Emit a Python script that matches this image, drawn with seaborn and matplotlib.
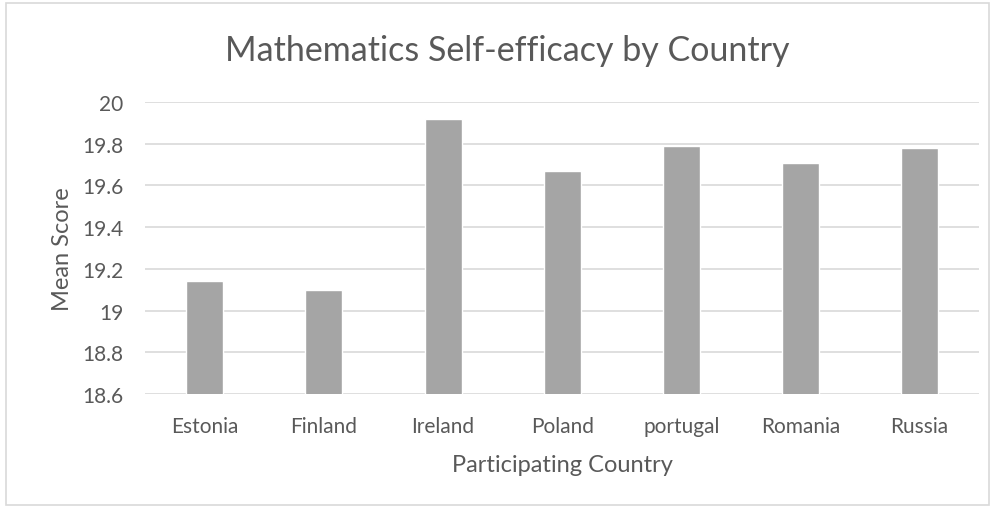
import matplotlib
matplotlib.use('Agg')
import matplotlib.pyplot as plt
from matplotlib.patches import Rectangle
from matplotlib.ticker import FuncFormatter
import pandas as pd
import seaborn as sns

# Mean self-efficacy score per participating country
countries = ['Estonia', 'Finland', 'Ireland', 'Poland', 'portugal', 'Romania', 'Russia']
mean_scores = [19.14, 19.10, 19.92, 19.67, 19.79, 19.71, 19.78]
y_ticks = [18.6, 18.8, 19.0, 19.2, 19.4, 19.6, 19.8, 20.0]

text_color = '#595959'
bar_color = '#a5a5a5'
grid_color = '#d9d9d9'

sns.set_style('white')
plt.rcParams['font.family'] = ['Lato', 'DejaVu Sans']

df = pd.DataFrame({'country': countries, 'score': mean_scores})

fig = plt.figure(figsize=(9.95, 5.1), dpi=100)
axes = fig.add_axes([0.146, 0.2255, 0.838, 0.5725])

sns.barplot(data=df, x='country', y='score', color=bar_color, width=0.31,
            saturation=1, ax=axes, zorder=2)

axes.set_ylim(18.6, 20.0)
axes.set_yticks(y_ticks)
axes.yaxis.set_major_formatter(FuncFormatter(lambda v, p: f'{v:g}'))
axes.grid(axis='y', color=grid_color, linewidth=1.2, zorder=0)
axes.set_axisbelow(True)
for spine in axes.spines.values():
    spine.set_visible(False)

axes.tick_params(axis='both', length=0, labelsize=15, colors=text_color)
axes.tick_params(axis='x', pad=16)
axes.tick_params(axis='y', pad=16)

axes.set_xlabel('Participating Country', fontsize=17, color=text_color, labelpad=13)
axes.set_ylabel('Mean Score', fontsize=17, color=text_color, labelpad=6)

fig.text(0.51, 0.90, 'Mathematics Self-efficacy by Country', fontsize=24.5,
         color=text_color, ha='center', va='center')

# light border around the chart area
fig.patches.append(Rectangle((0.006, 0.008), 0.988, 0.984, transform=fig.transFigure,
                             fill=False, edgecolor=grid_color, linewidth=1.2))

fig.savefig('out.png', dpi=100)
